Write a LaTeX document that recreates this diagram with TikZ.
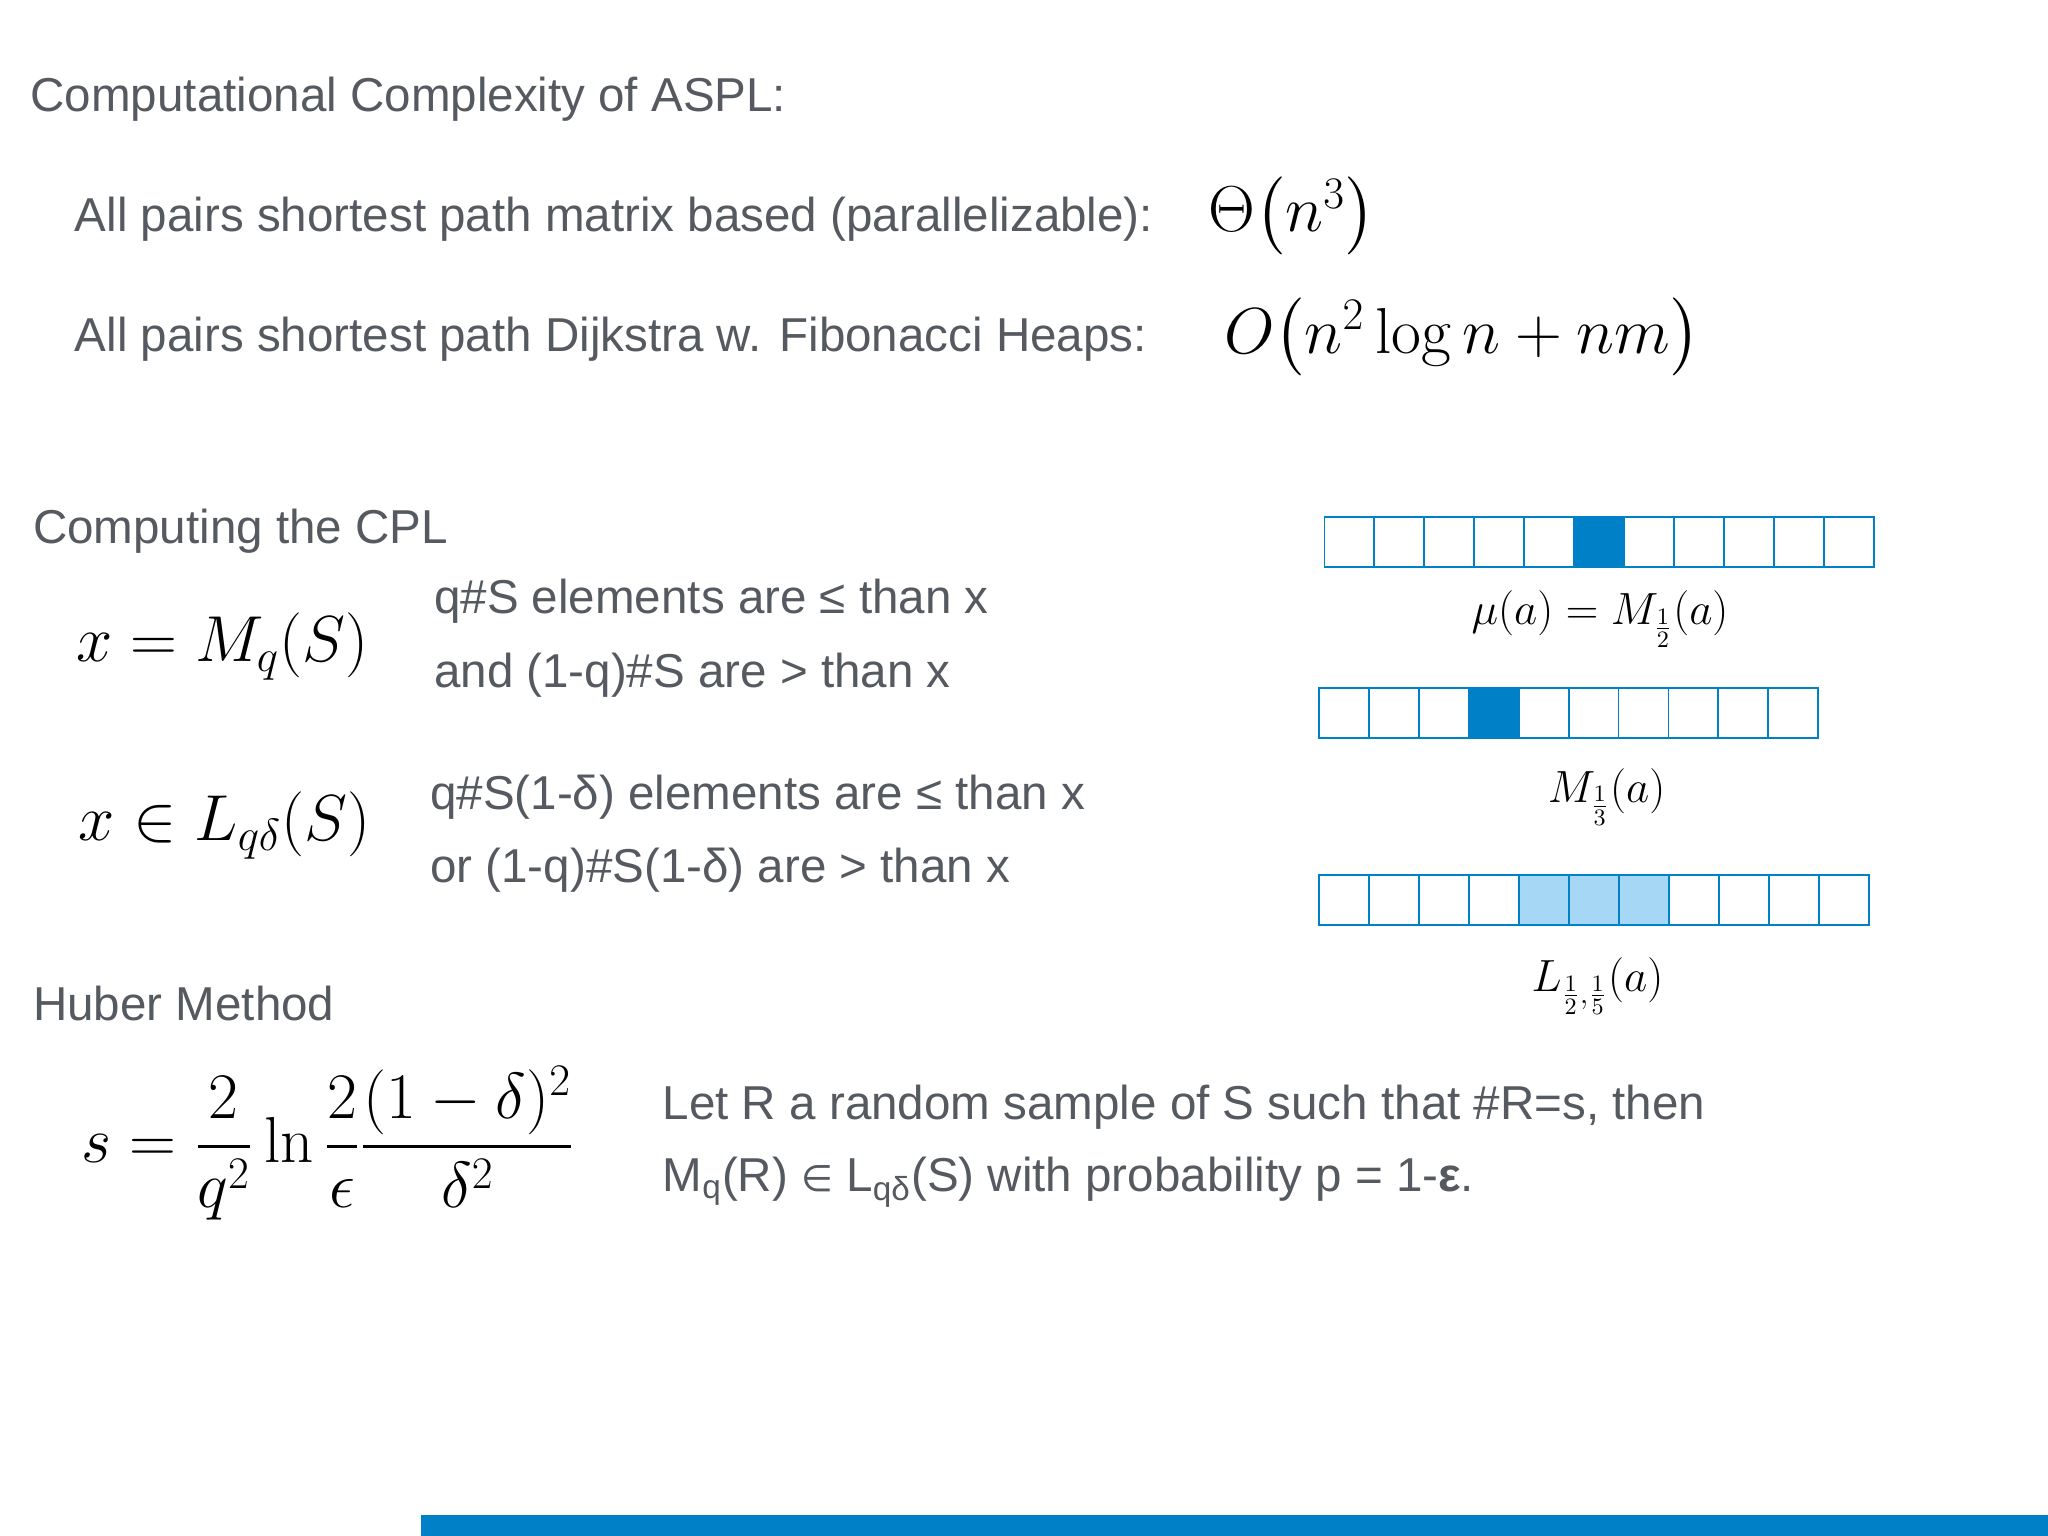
\documentclass[tikz,border=0pt]{standalone}
\usepackage{amsmath}
\usepackage[no-math]{fontspec}
\setmainfont{Liberation Sans}
\newfontfamily\djv{DejaVu Sans}
\definecolor{txt}{HTML}{555A60}
\definecolor{blu}{HTML}{0080C6}
\definecolor{lblu}{HTML}{A6D8F5}
\begin{document}
\begin{tikzpicture}[x=0.5pt,y=-0.5pt,
  tx/.style={anchor=west,text=txt,font=\fontsize{18.2}{21}\selectfont,inner sep=0},
  mth/.style={anchor=west,inner sep=0,font=\fontsize{24}{28}\selectfont},
  lab/.style={inner sep=0,font=\fontsize{18.7}{22}\selectfont},
  cell/.style={draw=blu,line width=0.7pt}]
\fill[white] (0,0) rectangle (1568,1176);
\useasboundingbox (0,0) rectangle (1568,1176);
\node[tx] (t1) at (23,76) {Computational Complexity of ASPL:};
\node[tx] (t2) at (57,168) {All pairs shortest path matrix based (parallelizable):};
\node[mth] (m1) at (925,165) {$\Theta\bigl(n^3\bigr)$};
\node[tx] (t3) at (57,260) {All pairs shortest path Dijkstra w. Fibonacci Heaps:};
\node[mth] (m2) at (937,258) {$O\bigl(n^2\log n+nm\bigr)$};
\node[tx] (t4) at (25,407) {Computing the CPL};
\node[mth] (m3) at (58,495) {$x=M_q(S)$};
\node[tx] (t5) at (332,460) {q\#S elements are ≤ than x};
\node[tx] (t6) at (332,517) {and (1-q)\#S are > than x};
\node[mth] (m4) at (60,632) {$x\in L_{q\delta}(S)$};
\node[tx] (t7) at (329,610) {q\#S(1-δ) elements are ≤ than x};
\node[tx] (t8) at (329,666) {or (1-q)\#S(1-δ) are > than x};
\node[tx] (t9) at (25,768) {Huber Method};
\node[mth,font=\fontsize{25.5}{30}\selectfont] (m5) at (62,875) {$s=\dfrac{2}{q^2}\ln\dfrac{2}{\epsilon}\dfrac{(1-\delta)^2}{\delta^2}$};
\node[tx] (t10) at (507,848) {Let R a random sample of S such that \#R=s, then};
\node[tx] (t11) at (507,905) {M\textsubscript{q}(R) {\djv\fontsize{14}{16}\selectfont ∈} L\textsubscript{qδ}(S) with probability p = 1-\textbf{ε}.};
% arrays
\foreach \i in {0,...,10} {
  \pgfmathsetmacro\xa{1014+\i*38.27}
  \ifnum\i=5 \fill[blu] (\xa,396) rectangle ++(38.27,38);\fi
  \draw[cell] (\xa,396) rectangle ++(38.27,38);
}
\foreach \i in {0,...,9} {
  \pgfmathsetmacro\xa{1010+\i*38.2}
  \ifnum\i=3 \fill[blu] (\xa,527) rectangle ++(38.2,38);\fi
  \draw[cell] (\xa,527) rectangle ++(38.2,38);
}
\foreach \i in {0,...,10} {
  \pgfmathsetmacro\xa{1010+\i*38.27}
  \ifnum\i>3 \ifnum\i<7 \fill[lblu] (\xa,670) rectangle ++(38.27,38);\fi\fi
  \draw[cell] (\xa,670) rectangle ++(38.27,38);
}
\node[lab] (l1) at (1225,474) {$\mu(a)=M_{\frac12}(a)$};
\node[lab] (l2) at (1230,610) {$M_{\frac13}(a)$};
\node[lab] (l3) at (1223,755) {$L_{\frac12,\frac15}(a)$};
\fill[blu] (322,1160) rectangle (1568,1176);
\end{tikzpicture}
\end{document}
